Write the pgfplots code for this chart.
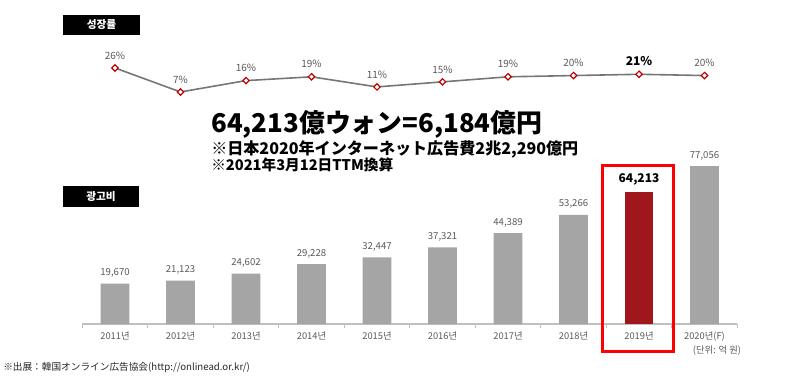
\documentclass[border=0pt]{standalone}
\usepackage{fontspec}
\setmainfont{Noto Sans CJK KR}
\newfontfamily\jp{Noto Sans CJK JP}
\usepackage{pgfplots}
\pgfplotsset{compat=1.18}
\definecolor{bargray}{HTML}{A5A5A5}
\definecolor{barred}{HTML}{A0161D}
\definecolor{linegray}{HTML}{767676}
\definecolor{mkred}{HTML}{C00000}
\definecolor{txtgray}{HTML}{595959}
\definecolor{axgray}{HTML}{BFBFBF}
\begin{document}
\begin{tikzpicture}
\useasboundingbox (0,0) rectangle (600pt,284.25pt);
% growth-rate line
\begin{axis}[
  at={(61.7pt,208.65pt)}, anchor=south west,
  scale only axis, width=491.25pt, height=28.4pt,
  xmin=-0.5, xmax=9.5, ymin=0, ymax=30,
  axis lines=none, clip=false,
  /pgf/number format/assume math mode=true,
]
\addplot[linegray, line width=1.2pt, mark=square*,
  mark size=1.7pt, mark options={rotate=45, draw=mkred, fill=white, line width=0.9pt}]
  coordinates {(0,26) (1,7) (2,16) (3,19) (4,11) (5,15) (6,19) (7,20) (8,21) (9,20)};
\addplot[draw=none, mark=none,
  nodes near coords={\pgfmathprintnumber{\pgfplotspointmeta}\%}, point meta=y,
  nodes near coords style={font=\fontsize{7.5}{8}\selectfont, text=txtgray, anchor=south, yshift=3pt}]
  coordinates {(0,26) (1,7) (2,16) (3,19) (4,11) (5,15) (6,19) (7,20) (9,20)};
\addplot[draw=none, mark=none,
  nodes near coords={\textbf{21\%}}, point meta=y,
  nodes near coords style={font=\fontsize{9}{10}\selectfont, text=black, anchor=south, yshift=3pt}]
  coordinates {(8,21)};
\end{axis}
% advertising spend bars
\begin{axis}[
  at={(61.7pt,41.25pt)}, anchor=south west,
  scale only axis, width=491.25pt, height=123pt,
  xmin=-0.5, xmax=9.5, ymin=0, ymax=80000,
  axis x line=bottom, axis y line=none,
  x axis line style={-, draw=axgray, line width=0.8pt},
  xtick={0,...,9},
  xticklabels={2011년,2012년,2013년,2014년,2015년,2016년,2017년,2018년,2019년,2020년(F)},
  major tick length=0pt,
  minor xtick={-0.5,0.5,...,9.5}, minor tick length=3pt, tick align=outside,
  minor tick style={draw=axgray, line width=0.6pt},
  xticklabel style={font=\fontsize{7}{8}\selectfont, text=txtgray, yshift=-2pt},
  ytick=\empty, clip=false,
  ybar,
  /pgf/number format/.cd, fixed, precision=0, 1000 sep={,}, assume math mode=true,
]
\addplot[fill=bargray, draw=none, bar width=0.44, bar shift=0pt,
  nodes near coords={\pgfmathprintnumber{\pgfplotspointmeta}}, point meta=y,
  nodes near coords style={font=\fontsize{7.2}{8}\selectfont, text=txtgray, anchor=south, yshift=1pt}]
  coordinates {(0,19670) (1,21123) (2,24602) (3,29228) (4,32447) (5,37321) (6,44389) (7,53266) (9,77056)};
\addplot[fill=barred, draw=none, bar width=0.44, bar shift=0pt,
  nodes near coords={\textbf{\pgfmathprintnumber{\pgfplotspointmeta}}}, point meta=y,
  nodes near coords style={font=\fontsize{9}{10}\selectfont, text=black, anchor=south, yshift=2pt}]
  coordinates {(8,64213)};
\end{axis}
\begin{scope}[x=0.75pt, y=-0.75pt, shift={(0pt,284.25pt)}]
  \fill[black] (63,15) rectangle (140,35);
  \node[text=white, font=\bfseries\fontsize{8}{9}\selectfont] at (101.5,25) {성장률};
  \fill[black] (63,186) rectangle (139,207);
  \node[text=white, font=\bfseries\fontsize{8}{9}\selectfont] at (101,196.5) {광고비};
  \node[anchor=base west, inner sep=0pt] at (211,133) {\resizebox{248.25pt}{!}{\jp\bfseries 64,213億ウォン=6,184億円}};
  \node[anchor=base west, inner sep=0pt] at (211,155) {\resizebox{275.25pt}{!}{\jp\bfseries ※日本2020年インターネット広告費2兆2,290億円}};
  \node[anchor=base west, inner sep=0pt] at (211,170) {\resizebox{136.5pt}{!}{\jp\bfseries ※2021年3月12日TTM換算}};
  \node[anchor=west, inner sep=0pt, text=black!85] at (3,368) {\resizebox{185pt}{!}{\jp ※出展：韓国オンライン広告協会(http://onlinead.or.kr/)}};
  \node[font=\fontsize{7}{8}\selectfont, text=txtgray] at (717,351) {(단위: 억 원)};
  \draw[red, line width=2.25pt] (602,166) rectangle (673,351);
\end{scope}
\end{tikzpicture}
\end{document}
